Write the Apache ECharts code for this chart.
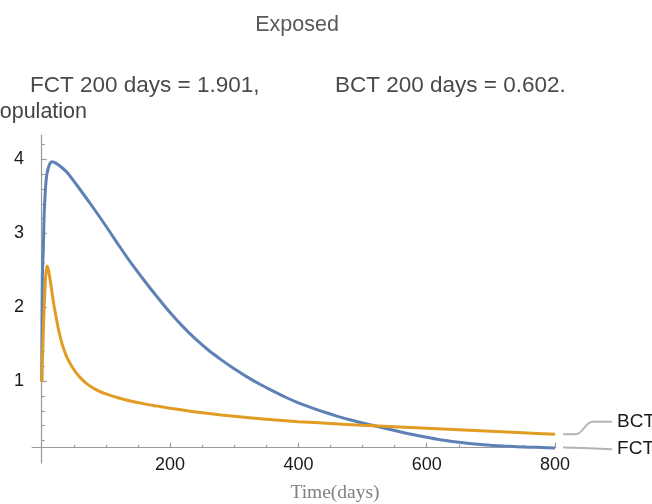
<!DOCTYPE html>
<html><head><meta charset="utf-8">
<script src="https://cdn.jsdelivr.net/npm/echarts@6/dist/echarts.min.js"></script>
<style>html,body{margin:0;padding:0;background:#fff}#c{width:652px;height:504px}</style>
</head><body><div id="c"></div>
<script>
// ---- data ----
const fctDays   = [0, 1, 2.5, 4, 6, 8, 12, 16, 22, 30, 40, 60, 80, 100, 120, 140, 160, 180, 200, 220, 240, 260, 280, 300, 320, 340, 360, 380, 400, 420, 440, 460, 480, 500, 520, 540, 560, 580, 600, 620, 640, 660, 680, 700, 720, 740, 760, 780, 800];
const fctValues = [1.0, 2.4, 2.8, 3.3, 3.62, 3.8, 3.93, 3.97, 3.95, 3.9, 3.82, 3.59, 3.35, 3.10, 2.84, 2.59, 2.36, 2.14, 1.93, 1.74, 1.57, 1.42, 1.29, 1.17, 1.06, 0.96, 0.87, 0.785, 0.71, 0.645, 0.585, 0.53, 0.48, 0.437, 0.397, 0.355, 0.315, 0.277, 0.243, 0.212, 0.187, 0.166, 0.149, 0.136, 0.125, 0.117, 0.11, 0.105, 0.10];
const bctDays   = [0, 2, 4, 6, 8, 10, 13, 16, 20, 25, 30, 35, 40, 50, 60, 70, 80, 90, 100, 120, 140, 160, 180, 200, 240, 280, 320, 360, 400, 450, 500, 550, 600, 650, 700, 750, 800];
const bctValues = [0.99, 1.55, 2.05, 2.4, 2.56, 2.52, 2.38, 2.2, 1.98, 1.75, 1.56, 1.42, 1.31, 1.16, 1.05, 0.97, 0.91, 0.865, 0.83, 0.775, 0.73, 0.695, 0.665, 0.635, 0.585, 0.545, 0.51, 0.48, 0.455, 0.43, 0.405, 0.385, 0.365, 0.345, 0.325, 0.305, 0.285];
const seriesNames = ['FCT', 'BCT'];
const xMajorTicks = [200, 400, 600, 800];
const xMinorTicks = [50, 100, 150, 250, 300, 350, 450, 500, 550, 650, 700, 750];
const yMajorTicks = [1, 2, 3, 4];
const yMinorTicks = [0.2, 0.4, 0.6, 0.8, 1.2, 1.4, 1.6, 1.8, 2.2, 2.4, 2.6, 2.8, 3.2, 3.4, 3.6, 3.8, 4.2];
const titleText = 'Exposed';
const noteFCT = 'FCT 200 days = 1.901,';
const noteBCT = 'BCT 200 days = 0.602.';
const yName = 'Population';
const xName = 'Time(days)';

const BLUE = '#5e81b5', ORANGE = '#e19c24', AXIS = '#9a9a9a';
const SANS = '"Liberation Sans", Arial, sans-serif';
const xMin = -15, xMax = 801, yMin = -0.104, yMax = 4.33;

const chart = echarts.init(document.getElementById('c'), null, {renderer: 'canvas'});
const xBase = {type: 'value', min: xMin, max: xMax, position: 'bottom', offset: -15.3,
  axisLine: {onZero: false}, splitLine: {show: false}};
const yBase = {type: 'value', min: yMin, max: yMax, position: 'left', splitLine: {show: false}};

chart.setOption({
  animation: false,
  backgroundColor: '#fff',
  grid: {left: 32.1, right: 96.3, top: 135, bottom: 41, containLabel: false},
  xAxis: [
    Object.assign({}, xBase, {
      axisLine: {show: true, onZero: false, lineStyle: {color: AXIS, width: 1.2}},
      axisTick: {show: true, inside: true, length: 5, customValues: xMajorTicks, lineStyle: {color: AXIS, width: 1.2}},
      axisLabel: {show: true, customValues: xMajorTicks, margin: 8, color: '#1a1a1a', fontSize: 18, fontFamily: SANS}
    }),
    Object.assign({}, xBase, {
      axisLine: {show: false, onZero: false},
      axisTick: {show: true, inside: true, length: 3, customValues: xMinorTicks, lineStyle: {color: AXIS, width: 1.2}},
      axisLabel: {show: false}
    })
  ],
  yAxis: [
    Object.assign({}, yBase, {
      axisLine: {show: true, onZero: true, onZeroAxisIndex: 0, lineStyle: {color: AXIS, width: 1.2}},
      axisTick: {show: true, inside: true, length: 5, customValues: yMajorTicks, lineStyle: {color: AXIS, width: 1.2}},
      axisLabel: {show: true, customValues: yMajorTicks, margin: 8, color: '#1a1a1a', fontSize: 18, fontFamily: SANS}
    }),
    Object.assign({}, yBase, {
      axisLine: {show: false, onZero: true, onZeroAxisIndex: 0},
      axisTick: {show: true, inside: true, length: 3, customValues: yMinorTicks, lineStyle: {color: AXIS, width: 1.2}},
      axisLabel: {show: false}
    })
  ],
  series: [
    {name: seriesNames[0], type: 'line', xAxisIndex: 0, yAxisIndex: 0, showSymbol: false,
     smooth: 0.3, lineStyle: {color: BLUE, width: 3}, itemStyle: {color: BLUE},
     data: fctDays.map((d, i) => [d, fctValues[i]])},
    {name: seriesNames[1], type: 'line', xAxisIndex: 0, yAxisIndex: 0, showSymbol: false,
     smooth: 0.3, lineStyle: {color: ORANGE, width: 3}, itemStyle: {color: ORANGE},
     data: bctDays.map((d, i) => [d, bctValues[i]])}
  ]
});

// annotations and end-of-line labels with connectors
const pF = chart.convertToPixel({xAxisIndex: 0, yAxisIndex: 0}, [fctDays[fctDays.length - 1], fctValues[fctValues.length - 1]]);
const pB = chart.convertToPixel({xAxisIndex: 0, yAxisIndex: 0}, [bctDays[bctDays.length - 1], bctValues[bctValues.length - 1]]);
const CON = '#b3b3b3';
const sx = pB[0] + 8;
const bLabelY = pB[1] - 12.5;
const fLabelY = pF[1] + 1.3;
chart.setOption({
  graphic: [
    {type: 'text', style: {text: titleText, x: 297, y: 25, textAlign: 'center', textVerticalAlign: 'middle', font: '21.5px ' + SANS, fill: '#595959'}},
    {type: 'text', style: {text: noteFCT, x: 30, y: 86, textAlign: 'left', textVerticalAlign: 'middle', font: '22.5px ' + SANS, fill: '#4a4a4a'}},
    {type: 'text', style: {text: noteBCT, x: 335, y: 86, textAlign: 'left', textVerticalAlign: 'middle', font: '22.5px ' + SANS, fill: '#4a4a4a'}},
    {type: 'text', style: {text: yName, x: 87, y: 112, textAlign: 'right', textVerticalAlign: 'middle', font: '21.5px ' + SANS, fill: '#444'}},
    {type: 'text', style: {text: xName, x: 335, y: 493, textAlign: 'center', textVerticalAlign: 'middle', font: '19.5px "Liberation Serif", "Times New Roman", serif', fill: '#808080'}},
    // BCT connector
    {type: 'line', shape: {x1: sx, y1: pB[1], x2: sx + 12, y2: pB[1]}, style: {stroke: CON, lineWidth: 2}},
    {type: 'bezierCurve', shape: {x1: sx + 12, y1: pB[1], x2: sx + 30, y2: bLabelY, cpx1: sx + 21, cpy1: pB[1], cpx2: sx + 21, cpy2: bLabelY}, style: {stroke: CON, lineWidth: 2, fill: null}},
    {type: 'line', shape: {x1: sx + 30, y1: bLabelY, x2: sx + 49, y2: bLabelY}, style: {stroke: CON, lineWidth: 2}},
    {type: 'text', style: {text: seriesNames[1], x: sx + 54, y: bLabelY, textAlign: 'left', textVerticalAlign: 'middle', font: '19px ' + SANS, fill: '#1a1a1a'}},
    // FCT connector
    {type: 'polyline', shape: {points: [[sx, pF[1] - 0.3], [sx + 20, pF[1]], [sx + 49, fLabelY]]}, style: {stroke: CON, lineWidth: 2, fill: null}},
    {type: 'text', style: {text: seriesNames[0], x: sx + 54, y: fLabelY, textAlign: 'left', textVerticalAlign: 'middle', font: '19px ' + SANS, fill: '#1a1a1a'}}
  ]
});
</script></body></html>
